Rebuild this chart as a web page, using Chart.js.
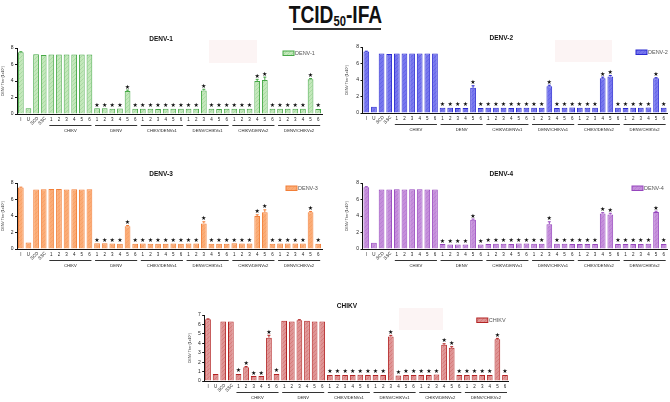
<!DOCTYPE html>
<html>
<head>
<meta charset="utf-8">
<script src="https://cdn.jsdelivr.net/npm/chart.js@4.4.1/dist/chart.umd.min.js"></script>
<style>
  body { margin: 0; background: #fff; }
  #page { position: relative; width: 670px; height: 402px; overflow: hidden; }
  .heading {
    position: absolute; left: 0; top: 2px; width: 670px;
    text-align: center; color: #111;
    font-family: "Liberation Sans", Arial, sans-serif;
    font-weight: bold; font-size: 24px; line-height: 26px;
  }
  .heading span { display: inline-block; transform: scaleX(0.8); }
  .heading sub { font-size: 14px; vertical-align: -3px; line-height: 0; }
  .rule { position: absolute; left: 293px; top: 28px; width: 88px; height: 1.5px; background: #333; }
  .smudge { position: absolute; background: #fcf4f4; }
  canvas { position: absolute; }
</style>
</head>
<body>
<div id="page">
  <div class="smudge" style="left:209px;top:40px;width:48px;height:23px"></div>
  <div class="smudge" style="left:555px;top:40px;width:57px;height:22px"></div>
  <div class="smudge" style="left:399px;top:308px;width:44px;height:22px"></div>
  <div class="heading"><span>TCID<sub>50</sub>-IFA</span></div>
  <div class="rule"></div>
</div>
<script>
const xLabels = ["I", "U", "SCD", "SSC",
  "1", "2", "3", "4", "5", "6", "1", "2", "3", "4", "5", "6",
  "1", "2", "3", "4", "5", "6", "1", "2", "3", "4", "5", "6",
  "1", "2", "3", "4", "5", "6", "1", "2", "3", "4", "5", "6"];
const groupNames = ["CHIKV", "DENV", "CHIKV/DENVx1", "DENV/CHIKVx1", "CHIKV/DENVx2", "DENV/CHIKVx2"];

const denvTicks = [0, 1, 2, 3, 4, 5, 6, 7, 8];
const chikvTicks = [0, 1, 2, 3, 4, 5, 6, 7];

const denv1 = [7.5, 0.7, 7.23, 7.15, 7.2, 7.2, 7.2, 7.2, 7.2, 7.2,
  0.7, 0.7, 0.65, 0.68, 2.8, 0.65, 0.65, 0.65, 0.62, 0.65, 0.65, 0.65,
  0.65, 0.65, 2.85, 0.65, 0.62, 0.65, 0.65, 0.65, 0.65, 4.0, 4.12, 0.65,
  0.65, 0.65, 0.65, 0.65, 4.22, 0.62];
const denv1Err = [0.05, 0, 0, 0, 0, 0, 0, 0, 0, 0,
  0, 0, 0, 0, 0.1, 0, 0, 0, 0, 0, 0, 0,
  0, 0, 0.15, 0, 0, 0, 0, 0, 0, 0.2, 0.35, 0,
  0, 0, 0, 0, 0.08, 0];

const denv2 = [7.44, 0.77, 7.2, 7.15, 7.22, 7.2, 7.2, 7.2, 7.2, 7.22,
  0.65, 0.63, 0.62, 0.62, 3.05, 0.62, 0.65, 0.63, 0.65, 0.62, 0.65, 0.63,
  0.63, 0.63, 3.25, 0.62, 0.65, 0.68, 0.65, 0.65, 0.65, 4.2, 4.43, 0.65,
  0.62, 0.63, 0.65, 0.68, 4.2, 0.63];
const denv2Err = [0.05, 0, 0, 0, 0, 0, 0, 0, 0, 0,
  0, 0, 0, 0, 0.25, 0, 0, 0, 0, 0, 0, 0,
  0, 0, 0.12, 0, 0, 0, 0, 0, 0, 0.15, 0.12, 0,
  0, 0, 0, 0, 0.08, 0];

const denv3 = [7.45, 0.8, 7.2, 7.25, 7.27, 7.27, 7.2, 7.25, 7.2, 7.25,
  0.7, 0.7, 0.68, 0.65, 2.75, 0.65, 0.68, 0.65, 0.65, 0.65, 0.68, 0.65,
  0.68, 0.68, 3.1, 0.65, 0.65, 0.65, 0.7, 0.68, 0.68, 4.0, 4.45, 0.65,
  0.68, 0.68, 0.68, 0.68, 4.45, 0.65];
const denv3Err = [0.05, 0, 0, 0, 0, 0, 0, 0, 0, 0,
  0, 0, 0, 0, 0.1, 0, 0, 0, 0, 0, 0, 0,
  0, 0, 0.2, 0, 0, 0, 0, 0, 0, 0.15, 0.3, 0,
  0, 0, 0, 0, 0.1, 0];

const denv4 = [7.5, 0.77, 7.22, 7.22, 7.25, 7.22, 7.25, 7.25, 7.22, 7.22,
  0.6, 0.55, 0.55, 0.55, 3.55, 0.55, 0.62, 0.65, 0.65, 0.62, 0.68, 0.68,
  0.65, 0.65, 3.0, 0.65, 0.65, 0.62, 0.62, 0.62, 0.62, 4.3, 4.18, 0.62,
  0.62, 0.62, 0.62, 0.65, 4.5, 0.62];
const denv4Err = [0.05, 0, 0, 0, 0, 0, 0, 0, 0, 0,
  0, 0, 0, 0, 0.08, 0, 0, 0, 0, 0, 0, 0,
  0, 0, 0.3, 0, 0, 0, 0, 0, 0, 0.1, 0.15, 0,
  0, 0, 0, 0, 0.08, 0];

const chikv = [6.54, 0.74, 6.3, 6.3, 0.75, 1.45, 0.53, 0.53, 4.6, 0.75,
  6.4, 6.3, 6.45, 6.4, 6.32, 6.3, 0.64, 0.64, 0.64, 0.64, 0.66, 0.64,
  0.64, 0.64, 4.72, 0.58, 0.64, 0.64, 0.64, 0.64, 0.68, 3.85, 3.52, 0.64,
  0.64, 0.64, 0.64, 0.64, 4.42, 0.64];
const chikvErr = [0.05, 0, 0, 0, 0, 0.08, 0, 0, 0.25, 0,
  0, 0, 0.05, 0, 0, 0, 0, 0, 0, 0, 0, 0,
  0, 0, 0.12, 0, 0, 0, 0, 0, 0, 0.1, 0.12, 0,
  0, 0, 0, 0, 0.1, 0];

const denvStars = [0, 0, 0, 0, 0, 0, 0, 0, 0, 0,
  1, 1, 1, 1, 1, 1, 1, 1, 1, 1, 1, 1,
  1, 1, 1, 1, 1, 1, 1, 1, 1, 1, 1, 1,
  1, 1, 1, 1, 1, 1];
const chikvStars = [0, 0, 0, 0, 1, 1, 1, 1, 1, 1,
  0, 0, 0, 0, 0, 0, 1, 1, 1, 1, 1, 1,
  1, 1, 1, 1, 1, 1, 1, 1, 1, 1, 1, 1,
  1, 1, 1, 1, 1, 1];

const panels = [
  { name: "DENV-1", values: denv1, errors: denv1Err, stars: denvStars, ticks: denvTicks,
    fill: "#c3e8bb", border: "#46a846", left: 0, top: 34, width: 330, yWidth: 17, padRight: 8, yTitlePad: 1.2, legendDx: -39 },
  { name: "DENV-2", values: denv2, errors: denv2Err, stars: denvStars, ticks: denvTicks,
    fill: "#7676ee", border: "#2a2ad0", left: 335, top: 33, width: 335, yWidth: 27.5, padRight: 2.5, yTitlePad: 9.8, legendDx: -31.5 },
  { name: "DENV-3", values: denv3, errors: denv3Err, stars: denvStars, ticks: denvTicks,
    fill: "#fbac76", border: "#f27f38", left: 0, top: 169, width: 330, yWidth: 17, padRight: 8, yTitlePad: 1.2, legendDx: -36 },
  { name: "DENV-4", values: denv4, errors: denv4Err, stars: denvStars, ticks: denvTicks,
    fill: "#c58fdb", border: "#9646bd", left: 335, top: 169, width: 335, yWidth: 27.5, padRight: 2.5, yTitlePad: 9.8, legendDx: -35.5 },
  { name: "CHIKV", values: chikv, errors: chikvErr, stars: chikvStars, ticks: chikvTicks,
    fill: "#df9494", border: "#b32424", left: 185, top: 301, width: 330, yWidth: 19.2, padRight: 6.2, yTitlePad: 2.6, legendDx: -32 },
];

Chart.defaults.font.family = "'Liberation Sans', Arial, sans-serif";

function hatch(fill, line) {

  const c = document.createElement("canvas");
  c.width = 4;
  c.height = 4;
  const g = c.getContext("2d");
  g.fillStyle = fill;
  g.fillRect(0, 0, 4, 4);
  g.strokeStyle = line;
  g.lineWidth = 0.8;
  g.beginPath();
  g.moveTo(0, 4);
  g.lineTo(4, 0);
  g.stroke();
  return g.createPattern(c, "repeat");
}

function decor(p, pattern) {

  return {
    id: "decor",
    afterDatasetsDraw: chart => {

      const { ctx, chartArea: area, scales: { x, y } } = chart;
      ctx.save();

      // error bars and significance stars
      p.values.forEach((v, i) => {
        const cx = x.getPixelForValue(i);
        const err = p.errors[i];
        const topY = y.getPixelForValue(v + err);
        if (err > 0) {
          ctx.strokeStyle = p.border;
          ctx.lineWidth = 1;
          ctx.beginPath();
          ctx.moveTo(cx, y.getPixelForValue(v));
          ctx.lineTo(cx, topY);
          ctx.moveTo(cx - 1.5, topY);
          ctx.lineTo(cx + 1.5, topY);
          ctx.stroke();
        }
        if (p.stars[i]) {
          ctx.fillStyle = "#111";
          ctx.font = "6px 'DejaVu Sans'";
          ctx.textAlign = "center";
          ctx.textBaseline = "alphabetic";
          ctx.fillText("\u2605", cx, topY - 1.5);
        }
      });

      // category labels
      ctx.fillStyle = "#222";
      ctx.font = "4.5px 'Liberation Sans'";
      xLabels.forEach((lab, i) => {
        const cx = x.getPixelForValue(i);
        if (lab.length > 1) {
          ctx.save();
          ctx.translate(cx + 1.8, area.bottom + 3.5);
          ctx.rotate(-Math.PI / 4);
          ctx.textAlign = "right";
          ctx.textBaseline = "middle";
          ctx.fillText(lab, 0, 0);
          ctx.restore();
        } else {
          ctx.textAlign = "center";
          ctx.textBaseline = "middle";
          ctx.fillText(lab, cx, area.bottom + 5.5);
        }
      });

      // group underlines and names
      ctx.font = "4.2px 'Liberation Sans'";
      ctx.strokeStyle = "#333";
      ctx.lineWidth = 1;
      groupNames.forEach((name, g) => {
        const a = x.getPixelForValue(4 + g * 6) - 2;
        const b = x.getPixelForValue(9 + g * 6) + 2;
        ctx.beginPath();
        ctx.moveTo(a, area.bottom + 11.5);
        ctx.lineTo(b, area.bottom + 11.5);
        ctx.stroke();
        ctx.textAlign = "center";
        ctx.textBaseline = "middle";
        ctx.fillText(name, (a + b) / 2, area.bottom + 16.5);
      });

      // legend
      const lx = area.right + p.legendDx;
      const ly = area.top + 3;
      ctx.fillStyle = pattern;
      ctx.fillRect(lx, ly, 11, 4.5);
      ctx.strokeStyle = p.border;
      ctx.strokeRect(lx, ly, 11, 4.5);
      ctx.fillStyle = "#555";
      ctx.font = "5.5px 'Liberation Sans'";
      ctx.textAlign = "left";
      ctx.textBaseline = "middle";
      ctx.fillText(p.name, lx + 12, ly + 2.4);

      ctx.restore();
    },
  };
}

panels.forEach(p => {

  const canvas = document.createElement("canvas");
  canvas.width = p.width;
  canvas.height = 102;
  canvas.style.left = p.left + "px";
  canvas.style.top = p.top + "px";
  document.getElementById("page").appendChild(canvas);

  const pattern = hatch(p.fill, p.border + "40");

  new Chart(canvas, {
    type: "bar",
    data: {
      labels: xLabels,
      datasets: [ {
        label: p.name,
        data: p.values,
        backgroundColor: pattern,
        borderColor: p.border,
        borderWidth: 1,
        barPercentage: 0.75,
        categoryPercentage: 1,
      } ],
    },
    options: {
      responsive: false,
      animation: false,
      layout: { padding: { left: 0, right: p.padRight, top: 0, bottom: 0 } },
      plugins: {
        legend: { display: false },
        tooltip: { enabled: false },
        title: {
          display: true,
          text: p.name,
          color: "#111",
          font: { size: 6.5, weight: "bold" },
          padding: { top: 1, bottom: 5.2 },
        },
      },
      scales: {
        x: {
          grid: { display: false },
          border: { display: true, color: "#111", width: 1 },
          ticks: { display: false },
          afterFit: s => { s.height = 22; },
        },
        y: {
          min: 0,
          max: p.ticks[p.ticks.length - 1],
          afterBuildTicks: s => { s.ticks = p.ticks.map(v => ({ value: v })); },
          ticks: { color: "#222", font: { size: 5 }, padding: 1.5 },
          grid: { drawOnChartArea: false, drawTicks: true, tickLength: 2, color: "#111" },
          border: { display: true, color: "#111", width: 1 },
          title: {
            display: true,
            text: "DENV Titer (1x10\u2076)",
            color: "#333",
            font: { size: 3.5 },
            padding: { top: p.yTitlePad, bottom: 0 },
          },
          afterFit: s => { s.width = p.yWidth; },
        },
      },
    },
    plugins: [ decor(p, pattern) ],
  });
});
</script>
</body>
</html>
